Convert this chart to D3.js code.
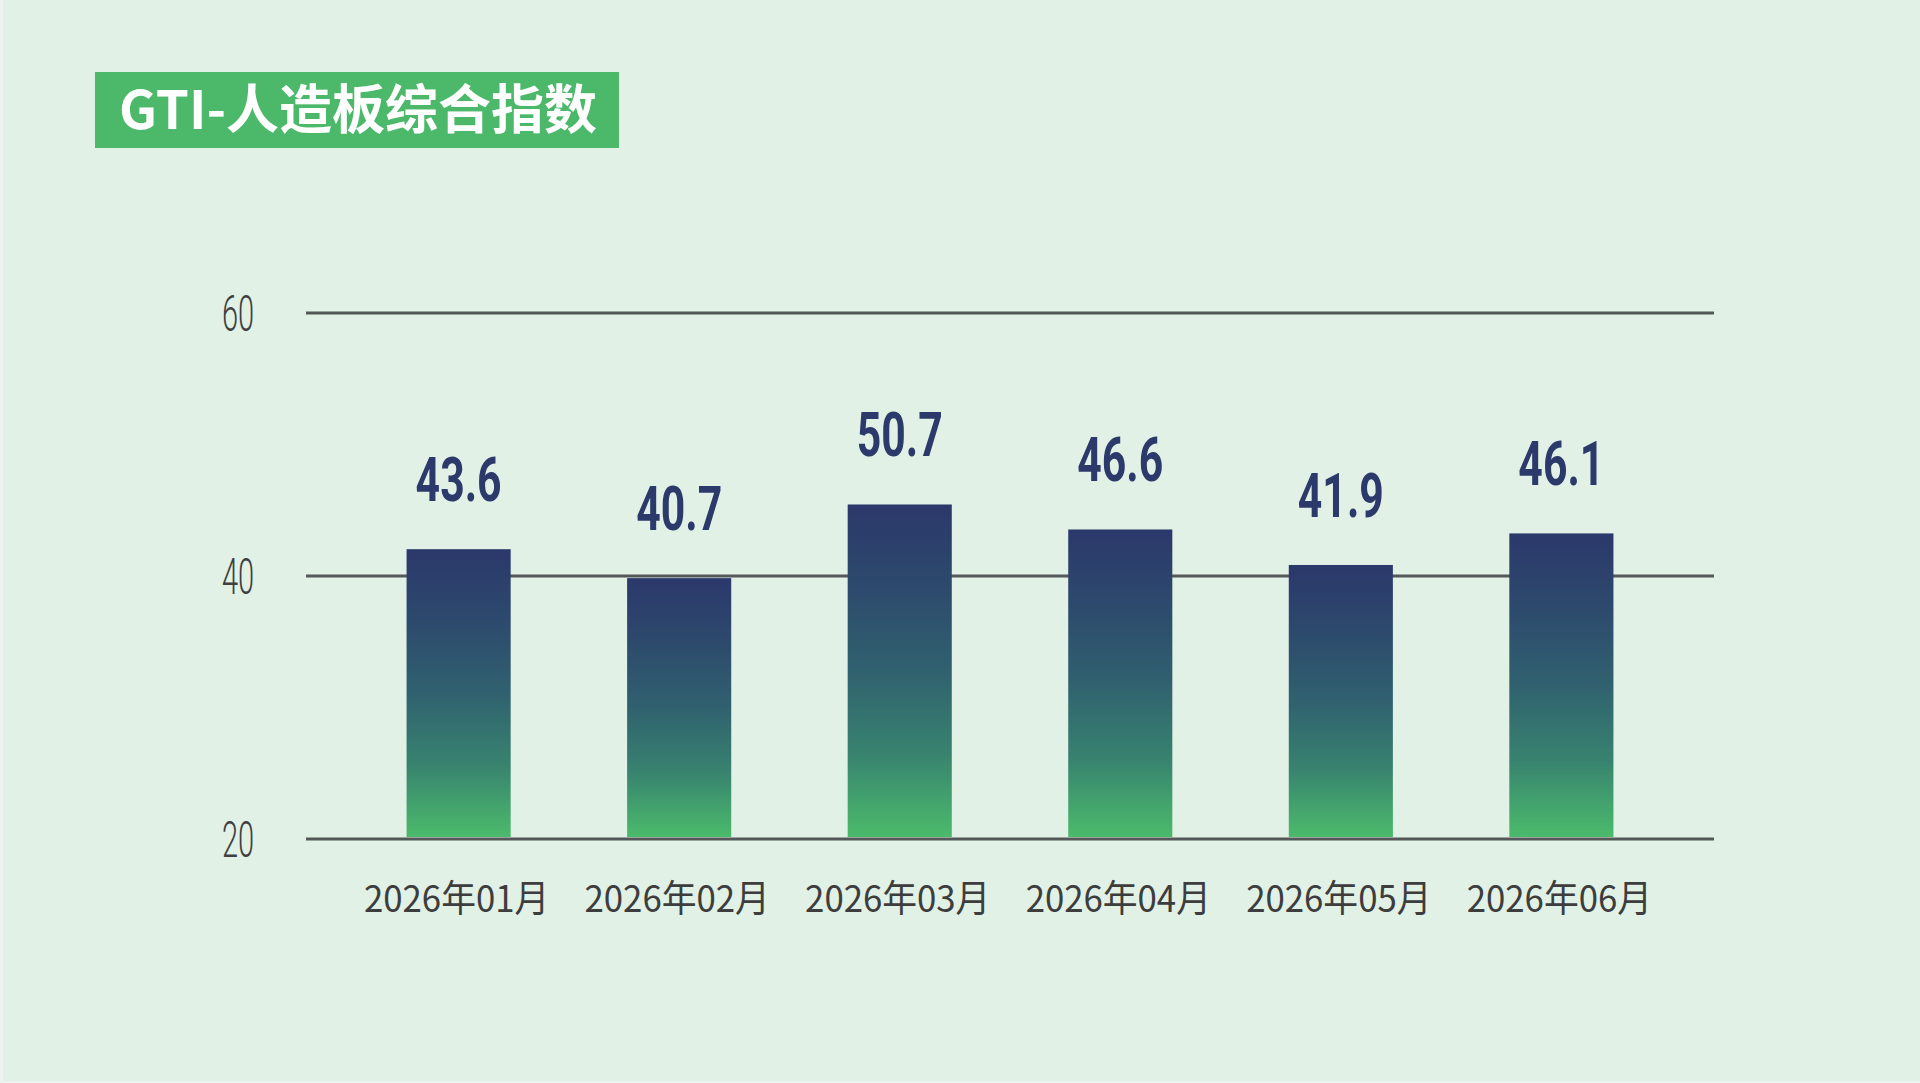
<!DOCTYPE html>
<html>
<head>
<meta charset="utf-8">
<script src="https://cdn.jsdelivr.net/npm/d3@7"></script>
<style>
  body { margin: 0; background: #edf3ef; }
  svg { display: block; }
</style>
</head>
<body>
<div id="chart"></div>
<script>
// data
let months = ["2026年01月", "2026年02月", "2026年03月", "2026年04月", "2026年05月", "2026年06月"]
// printed index values above each bar
let indexValues = [43.6, 40.7, 50.7, 46.6, 41.9, 46.1]
// bar heights as drawn in the picture (they are not to scale with the labels)
let barValues = [42.0, 39.8, 45.4, 43.5, 40.8, 43.2]
let yTicks = [20, 40, 60]
let title = "GTI-人造板综合指数"

let width = 1920, height = 1083

let svg = d3.select("#chart").append("svg")
    .attr("width", width)
    .attr("height", height)

// background
svg.append("rect")
    .attr("x", 3).attr("y", 0)
    .attr("width", width - 3).attr("height", 1081)
    .attr("fill", "#e1f1e6")

// gradient for the bars, navy on top to green at the bottom
let defs = svg.append("defs")
let grad = defs.append("linearGradient")
    .attr("id", "barGrad")
    .attr("x1", 0).attr("y1", 0).attr("x2", 0).attr("y2", 1)
grad.append("stop").attr("offset", "0%").attr("stop-color", "#2b386b")
grad.append("stop").attr("offset", "25%").attr("stop-color", "#2d4a6d")
grad.append("stop").attr("offset", "50%").attr("stop-color", "#30616f")
grad.append("stop").attr("offset", "75%").attr("stop-color", "#38836f")
grad.append("stop").attr("offset", "100%").attr("stop-color", "#4bbb6b")

// title box
svg.append("rect")
    .attr("x", 95).attr("y", 72)
    .attr("width", 524).attr("height", 76)
    .attr("fill", "#4cb96a")

svg.append("text")
    .attr("x", 119).attr("y", 129)
    .attr("fill", "#ffffff")
    .style("font-family", "'Noto Sans CJK SC', sans-serif")
    .style("font-weight", 700)
    .style("font-size", "53px")
    .text(title)

// scales
let left = 306, right = 1714
let x = d3.scaleBand()
    .domain(months)
    .range([left, right])
    .paddingInner(0.528)
    .paddingOuter(0.456)

let y = d3.scaleLinear()
    .domain([20, 60])
    .range([838.5, 312.5])

// gridlines + y labels
let yAxis = svg.append("g")
    .attr("transform", "translate(" + left + ",0)")
    .call(d3.axisLeft(y).tickValues(yTicks).tickSize(-(right - left)).tickFormat(d3.format("d")))

yAxis.select(".domain").remove()
yAxis.selectAll(".tick line")
    .attr("stroke", "#555858")
    .attr("stroke-width", 3)
yAxis.selectAll(".tick text")
    .attr("x", null)
    .attr("dy", "0.355em")
    .attr("text-anchor", "middle")
    .attr("transform", "translate(-68,0) scale(0.58,1)")
    .attr("fill", "#3f3f3f")
    .style("font-family", "Roboto, sans-serif")
    .style("font-weight", 300)
    .style("font-size", "50px")

// bars
let bars = months.map((m, i) => ({ month: m, bar: barValues[i], label: indexValues[i] }))

svg.selectAll(".bar")
    .data(bars)
    .enter().append("rect")
    .attr("class", "bar")
    .attr("x", d => x(d.month))
    .attr("y", d => y(d.bar))
    .attr("width", x.bandwidth())
    .attr("height", d => y(20) - 1.5 - y(d.bar))
    .attr("fill", "url(#barGrad)")

// value labels
svg.selectAll(".val")
    .data(bars)
    .enter().append("text")
    .attr("class", "val")
    .attr("text-anchor", "middle")
    .attr("transform", d => "translate(" + (x(d.month) + x.bandwidth() / 2) + "," + (y(d.bar) - 48) + ") scale(0.69,1)")
    .attr("fill", "#2c3a6b")
    .style("font-family", "Roboto, sans-serif")
    .style("font-weight", 700)
    .style("font-size", "62px")
    .text(d => d3.format(".1f")(d.label))

// x labels
let xAxis = svg.append("g")
    .attr("transform", "translate(0," + y(20) + ")")
    .call(d3.axisBottom(x).tickSize(0))

xAxis.select(".domain").remove()
xAxis.selectAll(".tick text")
    .attr("y", 73.5)
    .attr("dy", 0)
    .attr("transform", "translate(-2,0) scale(0.94,1)")
    .attr("fill", "#3d3d3d")
    .style("font-family", "'Noto Sans CJK SC', sans-serif")
    .style("font-weight", 400)
    .style("font-size", "37px")
</script>
</body>
</html>
